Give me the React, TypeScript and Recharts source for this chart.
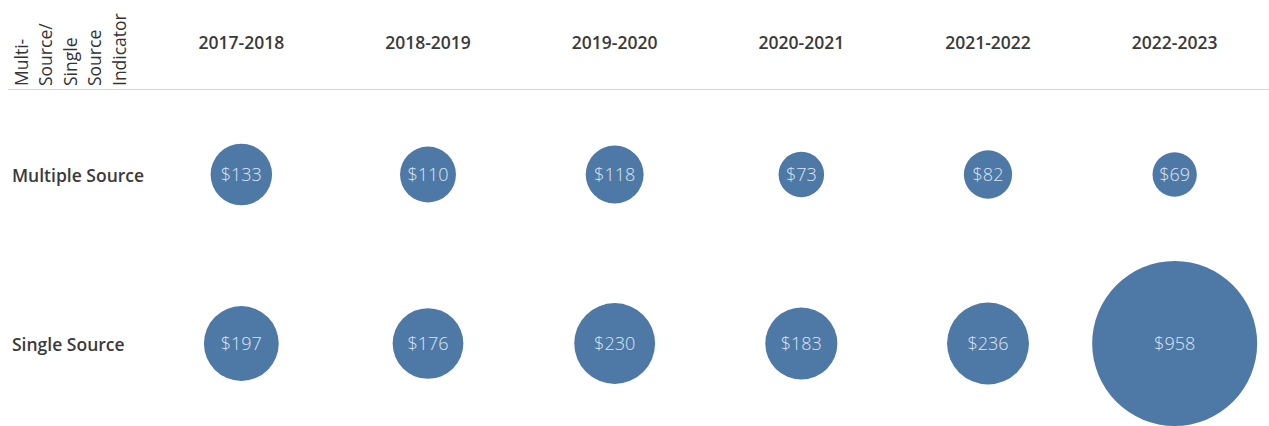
import * as React from "react";
import {
  Customized,
  LabelList,
  Scatter,
  ScatterChart,
  XAxis,
  YAxis,
  ZAxis,
} from "recharts";

const years = ["2017-2018", "2018-2019", "2019-2020", "2020-2021", "2021-2022", "2022-2023"];
const sourceTypes = ["Multiple Source", "Single Source"];
const multipleSource = [133, 110, 118, 73, 82, 69];
const singleSource = [197, 176, 230, 183, 236, 958];
const headerLines = ["Multi-", "Source/", "Single", "Source", "Indicator"];

const BLUE = "#4e79a7";
const TEXT = "#333333";
const FONT = "'Open Sans', sans-serif";

const points = [multipleSource, singleSource].flatMap((vals, row) =>
  vals.map((v, col) => ({ col, row, amount: v }))
);

function Header() {
  return (
    <g>
      <line x1={8} x2={1269} y1={89.5} y2={89.5} stroke="#d4d4d4" strokeWidth={1} />
      {headerLines.map((t, i) => {
        const x = 28 + i * 24.4;
        return (
          <text
            key={t + i}
            x={x}
            y={86}
            transform={`rotate(-90 ${x} 86)`}
            fontFamily={FONT}
            fontSize={17.5}
            fill={TEXT}
          >
            {t}
          </text>
        );
      })}
    </g>
  );
}

function RowTick(props: any) {
  const { y, payload } = props;
  return (
    <text x={12} y={y} dy={7} fontFamily={FONT} fontSize={17.5} fontWeight={600} fill="#3a3a3a">
      {sourceTypes[payload.value]}
    </text>
  );
}

export default function App() {
  return (
    <div style={{ position: "absolute", left: 0, top: 0, background: "#fff" }}>
      <ScatterChart width={1269} height={426} margin={{ top: 0, right: 1, bottom: -2, left: 0 }}>
        <XAxis
          type="number"
          dataKey="col"
          orientation="top"
          domain={[-0.5, 5.5]}
          ticks={[0, 1, 2, 3, 4, 5]}
          tickFormatter={(v: number) => years[v]}
          height={90}
          axisLine={false}
          tickLine={false}
          tick={{ fontFamily: FONT, fontSize: 17.5, fontWeight: 600, fill: "#3a3a3a", dy: -33 }}
        />
        <YAxis
          type="number"
          dataKey="row"
          domain={[-0.5, 1.5]}
          ticks={[0, 1]}
          reversed
          width={148}
          axisLine={false}
          tickLine={false}
          tick={<RowTick />}
        />
        <ZAxis type="number" dataKey="amount" domain={[0, 958]} range={[0, 21382]} />
        <Customized component={<Header />} />
        <Scatter data={points} fill={BLUE} isAnimationActive={false}>
          <LabelList
            dataKey="amount"
            position="center"
            formatter={(v: any) => `$${v}`}
            fill="#dce5ef"
            fontFamily={FONT}
            fontSize={18}
            fontWeight={300}
            stroke="none"
          />
        </Scatter>
      </ScatterChart>
    </div>
  );
}
